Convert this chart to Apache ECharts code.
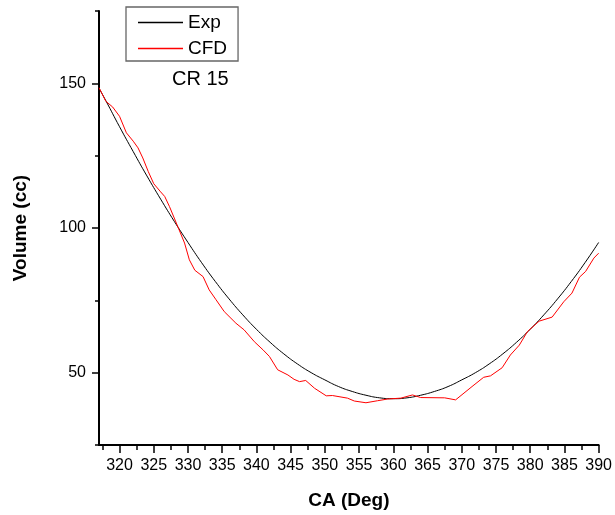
<!DOCTYPE html>
<html>
<head>
<meta charset="utf-8">
<script src="https://cdn.jsdelivr.net/npm/echarts@6/dist/echarts.min.js"></script>
<style>
html,body{margin:0;padding:0;background:#fff;}
#chart{width:615px;height:515px;}
</style>
</head>
<body>
<div id="chart"></div>
<script>
// Experimental volume curve (CA in degrees, volume in cc)
const expAngle = [317,318,320,322,324,326,328,330,332,334,336,338,340,342,344,346,348,350,352,354,356,358,360,362,364,366,368,370,372,374,376,378,380,382,384,386,388,390];
const expVolume = [148.3,144,135,126.4,118,110,102.3,95,88,81.5,75.5,70,65,60.5,56.5,53,50,47.5,45.2,43.5,42.2,41.3,41.0,41.3,42.2,43.5,45.2,47.5,50,53,56.5,60.5,65,70,75.5,81.5,88,95];

// CFD volume curve
const cfdAngle = [317,318,319,320,321,322,322.7,323.4,324.2,325,326,326.6,327.3,328.3,329.5,330.2,331,332.2,333.1,334.1,335.3,337,338.2,339.7,341,341.9,343.1,344.6,345.5,346.3,347.2,348.5,350.2,351.1,353.3,354.3,356,357.7,359.2,361.1,362.8,364,367.5,369.1,371.5,373.2,374.2,375.9,377.1,378.4,379.6,381.3,383.2,384.9,386.1,387.2,388.1,389.3,390];
const cfdVolume = [148.5,143.8,141.8,138.6,132.9,130.0,127.7,124.2,119.5,115.3,112.5,110.9,107.4,101.7,94.8,89.0,85.4,83.2,78.6,75.2,71.1,67.1,64.8,60.7,57.8,55.6,51.0,49.2,47.7,46.9,47.3,44.6,42.0,42.1,41.2,40.2,39.6,40.3,40.9,41.2,42.3,41.4,41.3,40.6,45.2,48.4,48.9,51.7,56.1,59.5,64.2,67.8,69.2,74.5,77.5,83.0,85.0,89.6,91.3];

// Axis ticks
const xMajorTicks = [320,325,330,335,340,345,350,355,360,365,370,375,380,385,390];
const xMinorTicks = [317.5,322.5,327.5,332.5,337.5,342.5,347.5,352.5,357.5,362.5,367.5,372.5,377.5,382.5,387.5];
const yMajorTicks = [50,100,150];
const yMinorTicks = [25,75,125,175];

const FONT = 'Liberation Sans, Arial, sans-serif';

const expData = expAngle.map((a,i)=>[a, expVolume[i]]);
const cfdData = cfdAngle.map((a,i)=>[a, cfdVolume[i]]);

const chart = echarts.init(document.getElementById('chart'), null, {renderer:'canvas'});
chart.setOption({
  animation:false,
  backgroundColor:'#fff',
  grid:{left:99, right:15, top:11, bottom:70, containLabel:false},
  legend:{
    left:126, top:7, orient:'vertical',
    icon:'rect',
    itemWidth:45, itemHeight:1.3, itemGap:7,
    padding:[6,11,3,12],
    borderColor:'#666', borderWidth:1.3,
    textStyle:{fontFamily:FONT, fontSize:19, color:'#000', lineHeight:19, height:19},
    data:['Exp','CFD']
  },
  xAxis:[{
    type:'value', min:317, max:390,
    axisLine:{show:true, onZero:false, lineStyle:{color:'#000', width:2}},
    axisTick:{show:true, inside:false, length:8, customValues:xMajorTicks, lineStyle:{color:'#000', width:1.5}},
    axisLabel:{show:true, customValues:xMajorTicks, margin:13, fontFamily:FONT, fontSize:16, color:'#000'},
    splitLine:{show:false},
    name:'CA (Deg)', nameLocation:'middle', nameGap:46,
    nameTextStyle:{fontFamily:FONT, fontSize:19, fontWeight:'bold', color:'#000'}
  },{
    type:'value', min:317, max:390, position:'bottom',
    axisLine:{show:false},
    axisTick:{show:true, inside:false, length:5, customValues:xMinorTicks, lineStyle:{color:'#000', width:1.5}},
    axisLabel:{show:false},
    splitLine:{show:false}
  }],
  yAxis:[{
    type:'value', min:25, max:175,
    axisLine:{show:true, onZero:false, lineStyle:{color:'#000', width:2}},
    axisTick:{show:true, inside:false, length:7, customValues:yMajorTicks, lineStyle:{color:'#000', width:1.5}},
    axisLabel:{show:true, customValues:yMajorTicks, margin:13, fontFamily:FONT, fontSize:16, color:'#000'},
    splitLine:{show:false},
    name:'Volume (cc)', nameLocation:'middle', nameGap:69, nameRotate:90,
    nameTextStyle:{fontFamily:FONT, fontSize:19, fontWeight:'bold', color:'#000'}
  },{
    type:'value', min:25, max:175, position:'left',
    axisLine:{show:false},
    axisTick:{show:true, inside:false, length:4, customValues:yMinorTicks, lineStyle:{color:'#000', width:1.5}},
    axisLabel:{show:false},
    splitLine:{show:false}
  }],
  graphic:[{
    type:'text', left:172, top:69,
    style:{text:'CR 15', font:'20px '+FONT, fill:'#000'}
  }],
  series:[{
    name:'Exp', type:'line', xAxisIndex:0, yAxisIndex:0,
    data:expData, smooth:true, symbol:'none',
    lineStyle:{color:'#000', width:1}, itemStyle:{color:'#000'}
  },{
    name:'CFD', type:'line', xAxisIndex:0, yAxisIndex:0,
    data:cfdData, smooth:false, symbol:'none',
    lineStyle:{color:'#ff0000', width:1}, itemStyle:{color:'#ff0000'}
  }]
});
</script>
</body>
</html>
